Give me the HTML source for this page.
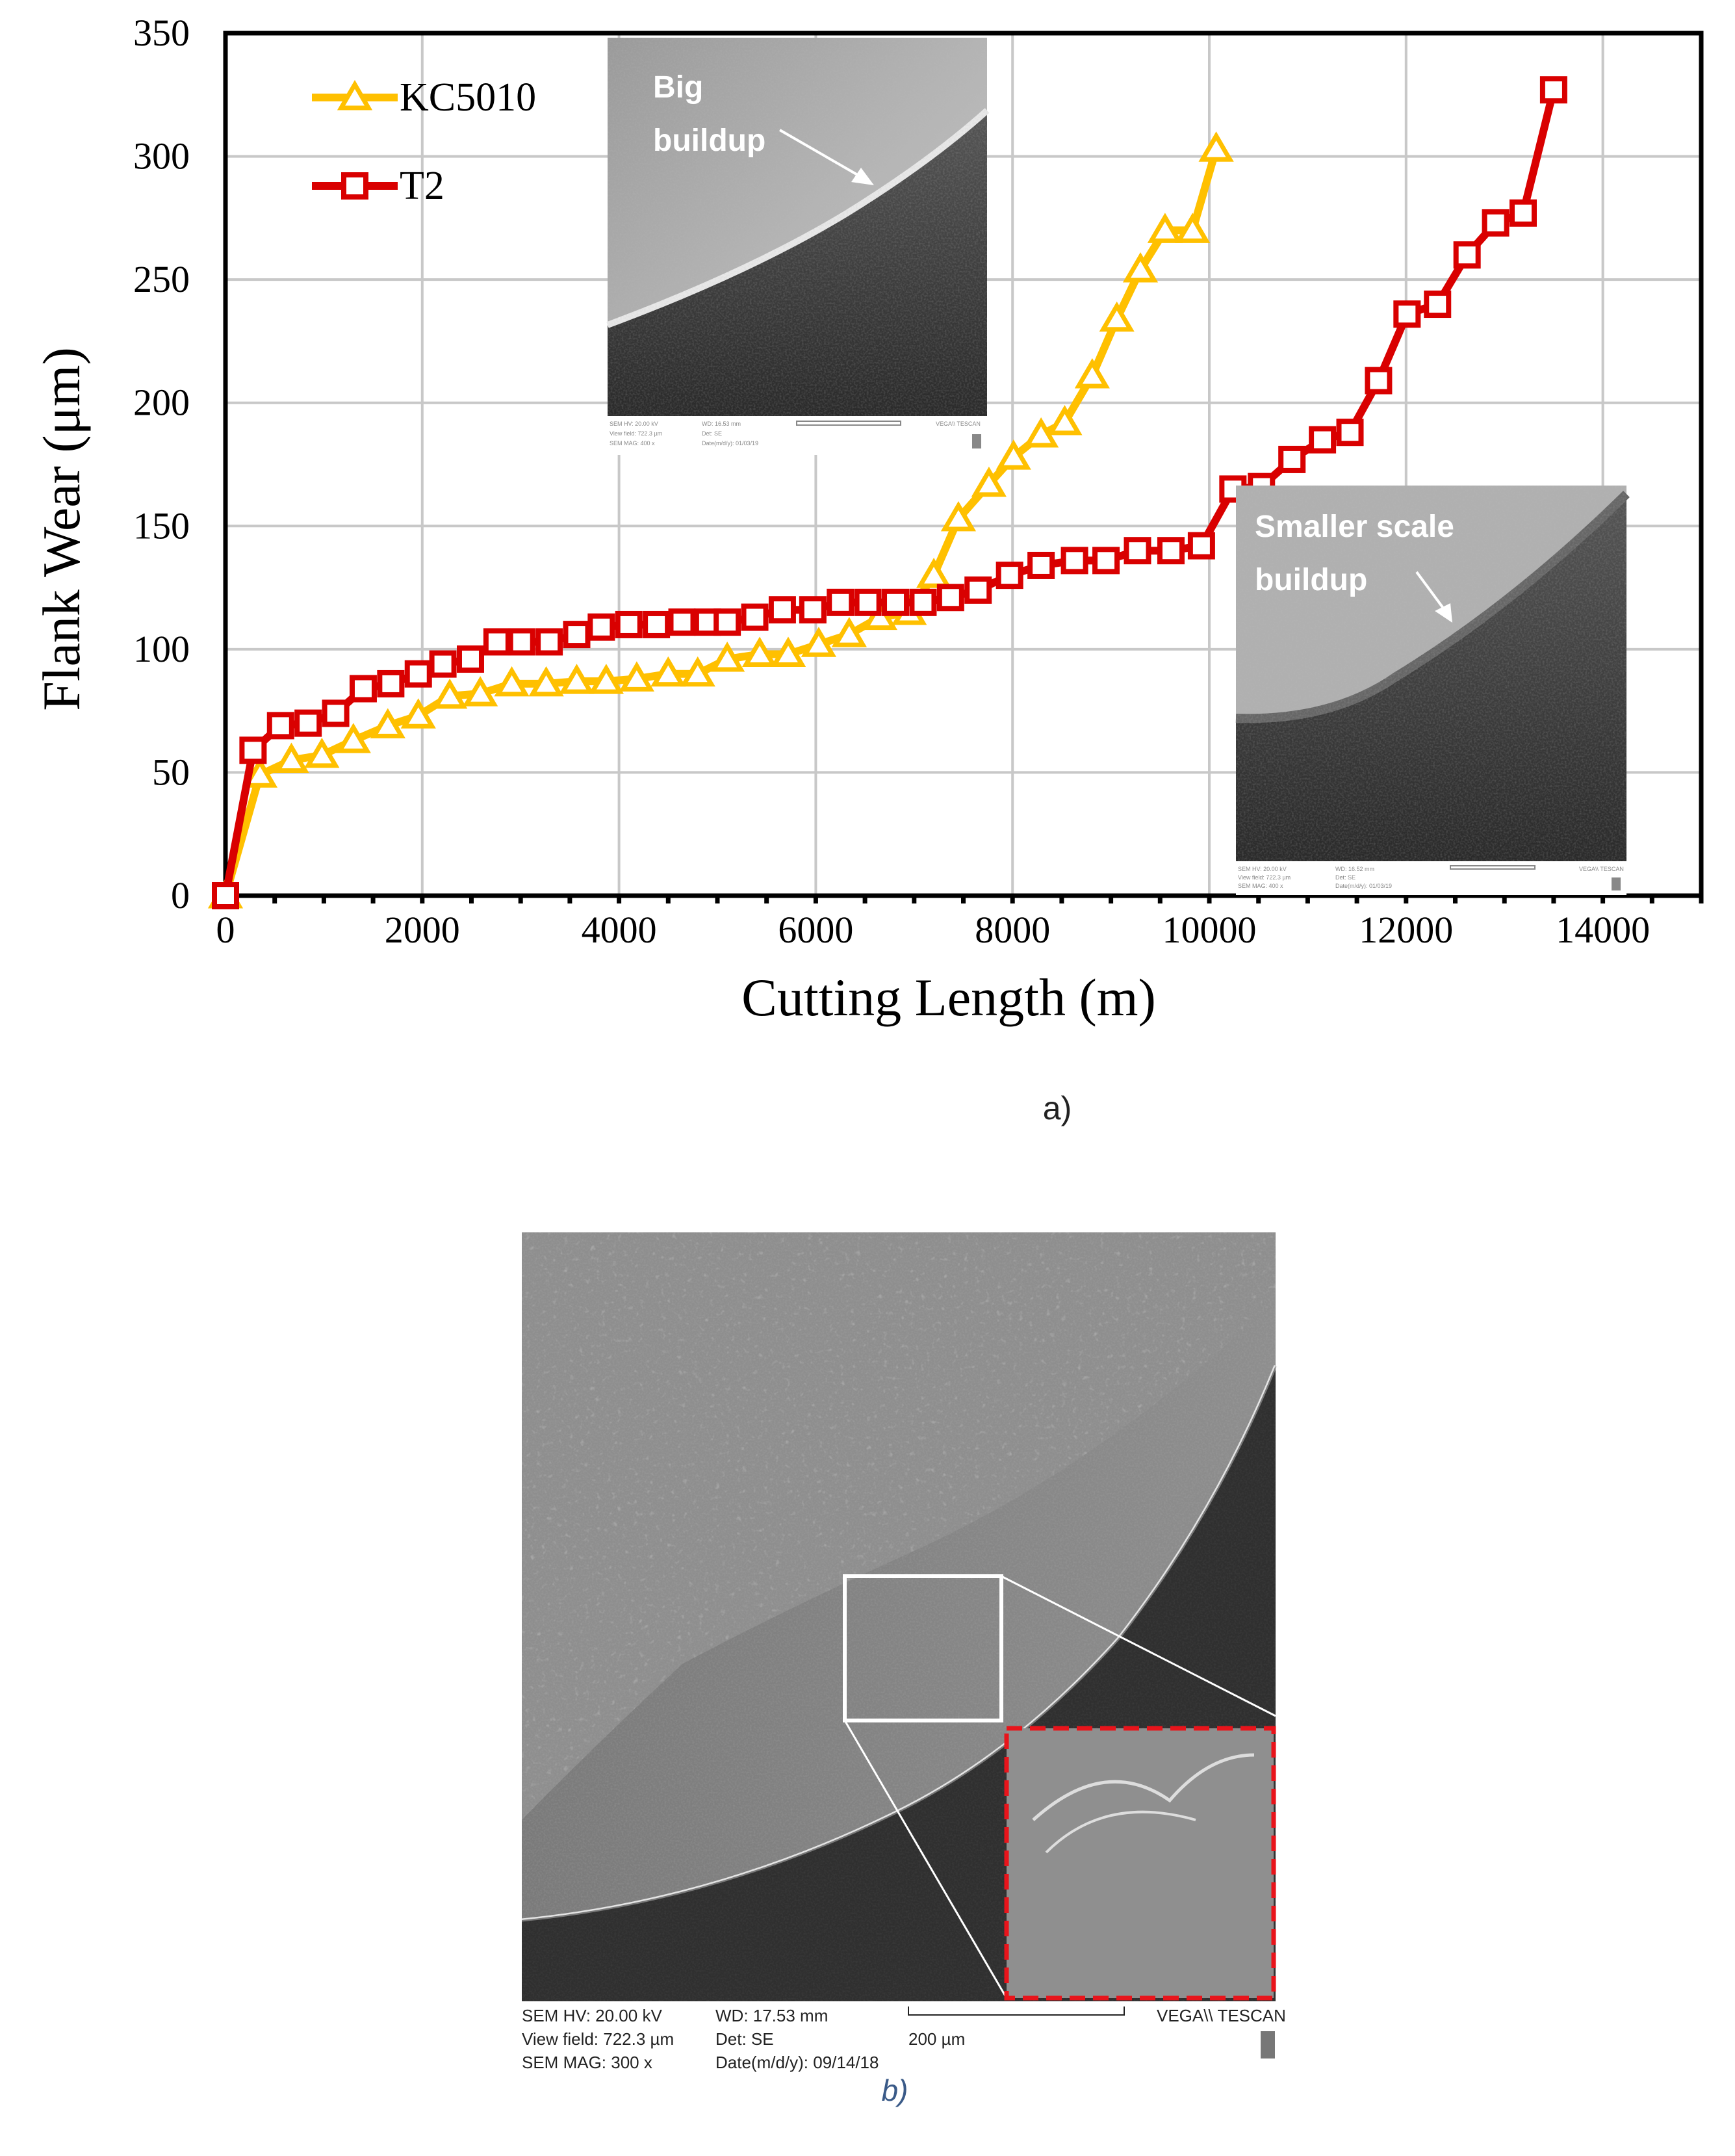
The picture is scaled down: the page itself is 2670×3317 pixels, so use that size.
<!DOCTYPE html>
<html><head><meta charset="utf-8">
<style>
html,body{margin:0;padding:0;background:#fff;}
svg{display:block;}
.serif{font-family:"Liberation Serif",serif;}
.sans{font-family:"Liberation Sans",sans-serif;}
</style></head>
<body>
<svg id="fig" width="2670" height="3317" viewBox="0 0 2670 3317" xmlns="http://www.w3.org/2000/svg">
<defs>
<filter id="noise" x="0" y="0" width="100%" height="100%">
<feTurbulence type="fractalNoise" baseFrequency="0.35" numOctaves="2" seed="3" result="t"/>
<feColorMatrix type="matrix" values="0 0 0 0 0.5 0 0 0 0 0.5 0 0 0 0 0.5 0 0 0 0.9 -0.35"/>
<feComposite in2="SourceGraphic" operator="in"/>
</filter>
<filter id="speck" x="0" y="0" width="100%" height="100%">
<feTurbulence type="fractalNoise" baseFrequency="0.12" numOctaves="2" seed="7"/>
<feColorMatrix type="matrix" values="0 0 0 0 1 0 0 0 0 1 0 0 0 0 1 0 0 0 3 -1.9"/>
<feComposite in2="SourceGraphic" operator="in"/>
</filter>
<linearGradient id="g1" x1="0" y1="0" x2="1" y2="1"><stop offset="0" stop-color="#9a9a9a"/><stop offset="0.5" stop-color="#b4b4b4"/><stop offset="1" stop-color="#c8c8c8"/></linearGradient>
<linearGradient id="gd" x1="0" y1="0" x2="0" y2="1"><stop offset="0" stop-color="#555"/><stop offset="1" stop-color="#2a2a2a"/></linearGradient>
<linearGradient id="gb" x1="0" y1="0" x2="1" y2="0"><stop offset="0" stop-color="#7a7a7a"/><stop offset="1" stop-color="#8e8e8e"/></linearGradient>
</defs>

<g id="chart"></g>

<!-- inset 1: big buildup -->
<g>
<rect x="935" y="58" width="584" height="582" fill="url(#g1)"/>
<path d="M935 500 Q1150 420 1300 330 Q1430 250 1519 170 L1519 640 L935 640 Z" fill="url(#gd)"/>
<path d="M935 500 Q1150 420 1300 330 Q1430 250 1519 170" fill="none" stroke="#e8e8e8" stroke-width="10"/>
<rect x="935" y="58" width="584" height="582" fill="#fff" filter="url(#noise)" opacity="0.5"/>
<line x1="1200" y1="200" x2="1330" y2="275" stroke="#fff" stroke-width="4"/>
<polygon points="1345,285 1310,280 1325,258" fill="#fff"/>
<text x="1005" y="150" class="sans" font-size="48" font-weight="bold" fill="#fff">Big</text>
<text x="1005" y="232" class="sans" font-size="48" font-weight="bold" fill="#fff">buildup</text>
<rect x="935" y="640" width="584" height="60" fill="#fff"/>
<g fill="#888" font-size="9" class="sans"><text x="938" y="655">SEM HV: 20.00 kV</text><text x="938" y="670">View field: 722.3 µm</text><text x="938" y="685">SEM MAG: 400 x</text><text x="1080" y="655">WD: 16.53 mm</text><text x="1080" y="670">Det: SE</text><text x="1080" y="685">Date(m/d/y): 01/03/19</text><text x="1440" y="655">VEGA\\ TESCAN</text></g>
<rect x="1226" y="648" width="160" height="6" fill="none" stroke="#888" stroke-width="2"/>
<rect x="1496" y="668" width="14" height="22" fill="#888"/>
</g>

<!-- inset 2: smaller buildup -->
<g>
<rect x="1902" y="747" width="601" height="578" fill="#b0b0b0"/>
<path d="M1902 1105 Q2050 1110 2150 1040 Q2330 930 2503 760 L2503 1325 L1902 1325 Z" fill="url(#gd)"/>
<path d="M1902 1105 Q2050 1110 2150 1040 Q2330 930 2503 760" fill="none" stroke="#666" stroke-width="14"/>
<rect x="1902" y="747" width="601" height="578" fill="#fff" filter="url(#noise)" opacity="0.5"/>
<line x1="2180" y1="880" x2="2228" y2="945" stroke="#fff" stroke-width="4"/>
<polygon points="2235,958 2208,940 2232,928" fill="#fff"/>
<text x="1931" y="826" class="sans" font-size="48" font-weight="bold" fill="#fff">Smaller scale</text>
<text x="1931" y="908" class="sans" font-size="48" font-weight="bold" fill="#fff">buildup</text>
<rect x="1902" y="1325" width="601" height="52" fill="#fff"/>
<g fill="#888" font-size="9" class="sans"><text x="1905" y="1340">SEM HV: 20.00 kV</text><text x="1905" y="1353">View field: 722.3 µm</text><text x="1905" y="1366">SEM MAG: 400 x</text><text x="2055" y="1340">WD: 16.52 mm</text><text x="2055" y="1353">Det: SE</text><text x="2055" y="1366">Date(m/d/y): 01/03/19</text><text x="2430" y="1340">VEGA\\ TESCAN</text></g>
<rect x="2232" y="1332" width="130" height="5" fill="none" stroke="#888" stroke-width="2"/>
<rect x="2480" y="1350" width="14" height="20" fill="#888"/>
</g>

<text x="1627" y="1722" class="sans" font-size="50" fill="#222" text-anchor="middle">a)</text>

<!-- panel b SEM image -->
<g>
<rect x="803" y="1896" width="1160" height="1183" fill="#2e2e2e"/>
<path d="M803 1896 L1963 1896 L1963 2101 Q1870 2330 1721 2521 Q1560 2700 1377 2789 Q1100 2925 803 2954 Z" fill="url(#gb)"/>
<path d="M803 1896 L1963 1896 L1963 2000 Q1700 2250 1420 2380 Q1200 2480 1050 2560 Q900 2700 803 2800 Z" fill="#8e8e8e"/>
<path d="M1963 2101 Q1870 2330 1721 2521 Q1560 2700 1377 2789 Q1100 2925 803 2954" fill="none" stroke="#e6e6e6" stroke-width="5"/>
<rect x="803" y="1896" width="1160" height="1183" fill="#fff" filter="url(#noise)" opacity="0.45"/>
<path d="M803 1896 L1963 1896 L1963 2000 Q1700 2250 1420 2380 Q1200 2480 1050 2560 Q900 2700 803 2800 Z" fill="#fff" filter="url(#speck)" opacity="0.25"/>
<path d="M1963 2101 Q1870 2330 1721 2521 Q1560 2700 1377 2789 Q1100 2925 803 2954 L803 3079 L1963 3079 Z" fill="#303030" opacity="0.6"/>
<rect x="1300" y="2425" width="241" height="222" fill="none" stroke="#fff" stroke-width="6"/>
<line x1="1541" y1="2425" x2="1963" y2="2640" stroke="#fff" stroke-width="3"/>
<line x1="1300" y1="2647" x2="1549" y2="3074" stroke="#fff" stroke-width="3"/>
<rect x="1549" y="2659" width="411" height="415" fill="#8f8f8f"/>
<path d="M1590 2800 Q1700 2700 1800 2770 Q1860 2700 1930 2700" fill="none" stroke="#ddd" stroke-width="5"/>
<path d="M1610 2850 Q1700 2760 1840 2800" fill="none" stroke="#ddd" stroke-width="4"/>
<rect x="1549" y="2659" width="411" height="415" fill="none" stroke="#e8141b" stroke-width="7" stroke-dasharray="24 12"/>
</g>
<g class="sans" font-size="26" fill="#222">
<text x="803" y="3110">SEM HV: 20.00 kV</text>
<text x="803" y="3146">View field: 722.3 µm</text>
<text x="803" y="3182">SEM MAG: 300 x</text>
<text x="1101" y="3110">WD: 17.53 mm</text>
<text x="1101" y="3146">Det: SE</text>
<text x="1101" y="3182">Date(m/d/y): 09/14/18</text>
<text x="1398" y="3146">200 µm</text>
<text x="1780" y="3110">VEGA\\ TESCAN</text>
</g>
<path d="M1398 3087 L1398 3100 L1730 3100 L1730 3087" fill="none" stroke="#222" stroke-width="2"/>
<rect x="1940" y="3125" width="22" height="42" fill="#777"/>
<text x="1377" y="3232" class="sans" font-size="46" font-style="italic" fill="#3a5a88" text-anchor="middle">b)</text>
</svg>

<script>
const kcX = [0,350,670,980,1300,1650,1960,2280,2590,2910,3260,3570,3870,4180,4500,4800,5100,5430,5720,6030,6340,6650,6950,7200,7450,7760,8010,8290,8530,8810,9060,9300,9550,9830,10070];
const kcY = [0,49,55,57,63,69,73,81,82,86,86,87,87,88,90,90,96,98,98,102,106,113,115,130,153,167,178,187,192,211,234,254,270,270,303];
const t2X = [0,280,560,840,1120,1400,1680,1960,2210,2490,2760,3010,3290,3570,3820,4100,4380,4640,4900,5100,5380,5660,5970,6250,6530,6810,7090,7370,7650,7970,8290,8630,8950,9270,9610,9920,10240,10530,10840,11150,11430,11720,12010,12320,12620,12910,13190,13500];
const t2Y = [0,59,69,70,74,84,86,90,94,96,103,103,103,106,109,110,110,111,111,111,113,116,116,119,119,119,119,121,124,130,134,136,136,140,140,142,165,166,177,185,188,209,236,240,260,273,277,327];
const xTicks = [0,2000,4000,6000,8000,10000,12000,14000];
const yTicks = [0,50,100,150,200,250,300,350];

const NS = 'http://www.w3.org/2000/svg';
const L = 347, R = 2618, T = 51, B = 1378;
const X0 = 347, XPER = 302.8/2000;
function sx(v){ return X0 + v*XPER; }
function sy(v){ return B - (v/350)*(B-T); }
const chart = document.getElementById('chart');
function mk(tag, attrs, parent){
  const e = document.createElementNS(NS, tag);
  for (const k in attrs) e.setAttribute(k, attrs[k]);
  (parent||chart).appendChild(e);
  return e;
}
xTicks.forEach(v => {
  if (v === 0) return;
  const g = mk('line', {x1:sx(v), y1:T, x2:sx(v), y2:B, stroke:'#c8c8c8', 'stroke-width':4});
  
  
});
yTicks.forEach(v => {
  if (v === 0) return;
  const g = mk('line', {x1:L, y1:sy(v), x2:R, y2:sy(v), stroke:'#c8c8c8', 'stroke-width':4});
  
  
});
const fr = mk('rect', {x:L, y:T, width:R-L, height:B-T, fill:'none', stroke:'#000', 'stroke-width':7});


for (let v = 0; v <= 15000; v += 500) {
  const tk = mk('line', {x1:sx(v), y1:B, x2:sx(v), y2:B+12, stroke:'#000', 'stroke-width':7});
  
  
}
xTicks.forEach(v => {
  const t = mk('text', {x:sx(v), y:1450, 'text-anchor':'middle', 'font-size':58, class:'serif', fill:'#000'});
  t.textContent = v;
  
  
});
yTicks.forEach(v => {
  const t = mk('text', {x:292, y:sy(v)+19, 'text-anchor':'end', 'font-size':58, class:'serif', fill:'#000'});
  t.textContent = v;
  
  
});
const xt = mk('text', {x:1460, y:1562, 'text-anchor':'middle', 'font-size':82, class:'serif', fill:'#000'});
xt.textContent = 'Cutting Length (m)';


const yt = mk('text', {x:0, y:0, 'text-anchor':'middle', 'font-size':82, class:'serif', fill:'#000', transform:'translate(122,814) rotate(-90)'});
yt.textContent = 'Flank Wear (μm)';



function series(xs, ys, color, kind, name){
  const g = mk('g', {});
  
  
  const pts = xs.map((x,i) => sx(x)+','+sy(ys[i])).join(' ');
  const pl = mk('polyline', {points:pts, fill:'none', stroke:color, 'stroke-width':12, 'stroke-linejoin':'round'}, g);
  
  
  xs.forEach((x,i) => {
    const cx = sx(x), cy = sy(ys[i]);
    let m;
    if (kind === 'tri') {
      m = mk('polygon', {points:`${cx},${cy-20} ${cx-21},${cy+16} ${cx+21},${cy+16}`, fill:'#fff', stroke:color, 'stroke-width':7}, g);
    } else {
      m = mk('rect', {x:cx-17, y:cy-17, width:34, height:34, fill:'#fff', stroke:color, 'stroke-width':8}, g);
    }
    
    
  });
}
series(kcX, kcY, '#ffc000', 'tri', 'kc5010');
series(t2X, t2Y, '#d90000', 'sq', 't2');

const lg = mk('g', {});


const e1 = mk('g', {}, lg);


mk('line', {x1:480, y1:150, x2:612, y2:150, stroke:'#ffc000', 'stroke-width':12}, e1);
mk('polygon', {points:'546,130 525,166 567,166', fill:'#fff', stroke:'#ffc000', 'stroke-width':7}, e1);
const l1 = mk('text', {x:615, y:170, 'font-size':62, class:'serif', fill:'#000'}, e1);
l1.textContent = 'KC5010';
const e2 = mk('g', {}, lg);


mk('line', {x1:480, y1:286, x2:612, y2:286, stroke:'#d90000', 'stroke-width':12}, e2);
mk('rect', {x:529, y:269, width:34, height:34, fill:'#fff', stroke:'#d90000', 'stroke-width':8}, e2);
const l2 = mk('text', {x:615, y:306, 'font-size':62, class:'serif', fill:'#000'}, e2);
l2.textContent = 'T2';
</script>
</body></html>
